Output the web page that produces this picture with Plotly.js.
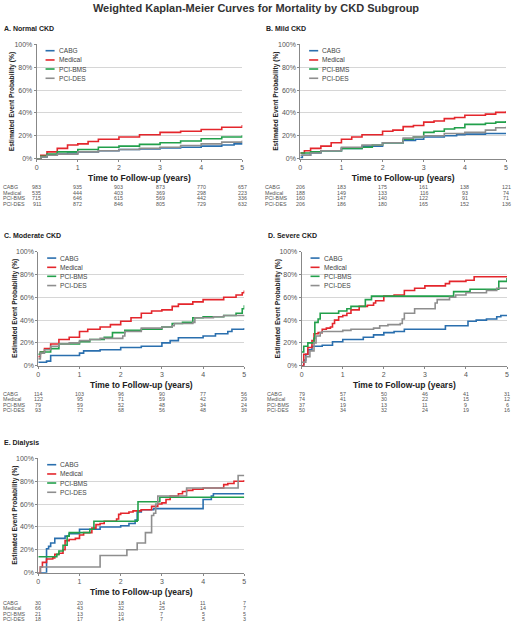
<!DOCTYPE html>
<html><head><meta charset="utf-8">
<script src="https://cdn.plot.ly/plotly-3.0.1.min.js"></script>
<style>html,body{margin:0;padding:0;background:#fff}#chart{width:512px;height:622px}</style>
</head><body><div id="chart"></div>
<script>
const groups = ["CABG", "Medical", "PCI-BMS", "PCI-DES"];
const groupColors = ["#2a6fae", "#e4262c", "#22a04b", "#8e8e8e"];
const panelTitles = ["A. Normal CKD", "B. Mild CKD", "C. Moderate CKD", "D. Severe CKD", "E. Dialysis"];
const xTicks = [0, 1, 2, 3, 4, 5];
const yTicks = [0, 20, 40, 60, 80, 100];
const yTickText = ["0%", "20%", "40%", "60%", "80%", "100%"];
const mainTitle = "Weighted Kaplan-Meier Curves for Mortality by CKD Subgroup";
const xTitle = "Time to Follow-up (years)";
const yTitle = "Estimated Event Probability (%)";

// ---- A. Normal CKD ----
const A_CABG_t = [0, 0.1, 0.25, 0.5, 0.75, 1, 1.5, 2, 2.5, 3, 3.5, 4, 4.5, 4.8, 5];
const A_CABG_p = [0, 1.5, 3, 4, 5, 6, 7, 8, 8.5, 9.5, 10, 11, 12, 13, 14];
const A_Med_t = [0, 0.1, 0.25, 0.5, 0.75, 1, 1.25, 1.5, 2, 2.5, 3, 3.5, 4, 4.5, 5];
const A_Med_p = [0, 3, 6, 9, 12, 13, 15, 17, 19, 21, 23, 24, 25.5, 27.5, 29.5];
const A_BMS_t = [0, 0.1, 0.25, 0.5, 1, 1.5, 2, 2.5, 3, 3.5, 4, 4.5, 5];
const A_BMS_p = [0, 2, 4, 6, 8, 10, 11, 12.5, 14, 15.5, 17.5, 19, 20.5];
const A_DES_t = [0, 0.1, 0.25, 0.5, 1, 1.5, 2, 2.5, 3, 3.5, 4, 4.5, 5];
const A_DES_p = [0, 1.5, 3, 4, 6, 7, 8, 9, 10, 11.5, 13, 14.5, 16];

// ---- B. Mild CKD ----
const B_CABG_t = [0, 0.05, 0.25, 0.5, 1, 1.5, 2, 2.5, 2.8, 3, 3.5, 3.8, 4, 4.5, 5];
const B_CABG_p = [1, 3, 5, 7, 9, 11, 14, 16, 17, 19, 20, 21, 21.5, 22, 22.5];
const B_Med_t = [0, 0.1, 0.25, 0.5, 0.75, 1, 1.25, 1.5, 2, 2.25, 2.5, 2.75, 3, 3.25, 3.5, 3.75, 4, 4.5, 4.75, 5];
const B_Med_p = [5, 7, 9, 11, 14, 17, 19, 21, 24, 25, 28, 29, 32, 33, 35, 36, 38, 39, 40.5, 41.5];
const B_BMS_t = [0, 0.25, 0.5, 1, 1.5, 1.75, 2, 2.5, 2.75, 3, 3.25, 3.5, 3.75, 4, 4.5, 4.75, 5];
const B_BMS_p = [5, 6, 7, 9, 10, 12, 14, 17, 19, 23, 24, 26, 27, 30, 31, 32, 33];
const B_DES_t = [0, 0.25, 0.5, 1, 1.5, 2, 2.5, 2.75, 3, 3.5, 4, 4.5, 4.75, 5];
const B_DES_p = [3, 5, 7, 10, 12, 14, 18, 19, 20, 22, 23, 25, 27, 28];

// ---- C. Moderate CKD ----
const C_CABG_t = [0, 0.2, 0.3, 0.5, 1, 1.1, 1.5, 2, 2.5, 3, 3.2, 3.4, 3.9, 4, 4.3, 4.6, 4.7, 5];
const C_CABG_p = [3, 4, 9, 9, 11, 13, 14, 16, 17, 20, 22, 24.5, 24.5, 26, 28, 30, 32, 33];
const C_Med_t = [0, 0.05, 0.15, 0.3, 0.5, 0.75, 1, 1.2, 1.5, 1.75, 2, 2.25, 2.5, 2.75, 3, 3.25, 3.4, 3.75, 4, 4.5, 4.8, 4.95, 5];
const C_Med_p = [8, 12, 15, 19, 23, 25, 30, 32, 34, 36, 39, 42, 46, 48, 49, 52, 54, 56, 58, 60, 62, 64, 66];
const C_BMS_t = [0, 0.05, 0.3, 0.5, 1, 1.25, 1.6, 1.8, 2, 2.1, 2.5, 3, 3.25, 3.5, 3.75, 4, 4.5, 4.8, 4.95, 5];
const C_BMS_p = [10, 12, 15, 19, 21, 23, 25, 29, 29, 31, 32, 34, 37, 38, 42, 43, 44, 46, 50, 53];
const C_DES_t = [0, 0.05, 0.15, 0.3, 0.5, 0.75, 1, 1.25, 1.5, 1.75, 2.05, 2.1, 2.5, 3, 3.25, 3.3, 3.75, 3.8, 4, 4.25, 4.5, 5];
const C_DES_p = [6, 11, 14, 17, 19, 20, 22, 23, 24, 24, 26, 30, 33, 34, 35, 37, 38, 42, 42, 43, 44, 44.5];

// ---- D. Severe CKD ----
const D_CABG_t = [0, 0.05, 0.1, 0.15, 0.25, 0.5, 0.75, 1, 1.5, 1.75, 2, 2.25, 2.5, 3, 3.5, 4, 4.05, 4.25, 4.5, 4.75, 4.85, 5];
const D_CABG_p = [0, 5, 10, 14, 17, 18, 21, 23, 25, 27, 29, 30, 32, 32, 35, 35, 39, 40, 41, 43, 44, 44.5];
const D_Med_t = [0, 0.05, 0.15, 0.25, 0.3, 0.4, 0.5, 0.6, 0.7, 0.75, 0.8, 0.9, 1, 1.1, 1.2, 1.4, 1.6, 1.75, 1.8, 2, 2.25, 2.5, 2.75, 3, 3.5, 3.6, 4, 4.2, 5];
const D_Med_p = [0, 10, 16, 22, 28, 29, 32, 33, 34, 37, 40, 43, 44, 46, 49, 52, 53, 55, 57, 61, 62, 66, 68, 70, 72, 74, 75, 78, 78];
const D_BMS_t = [0, 0.05, 0.15, 0.3, 0.32, 0.4, 0.45, 0.8, 0.9, 1.1, 1.2, 1.5, 1.55, 1.7, 3.5, 3.7, 4, 4.1, 4.75, 4.8, 5];
const D_BMS_p = [12, 17, 20, 24, 38, 41, 46, 46, 48, 50, 52, 52, 58, 61, 61, 65, 65, 67, 67, 74, 77];
const D_DES_t = [0, 0.1, 0.2, 0.3, 0.35, 0.45, 0.5, 0.75, 1, 1.2, 1.5, 1.75, 1.9, 2.1, 2.4, 2.45, 2.5, 2.7, 2.75, 3, 3.25, 3.3, 3.6, 3.75, 4, 4.5, 4.75, 5];
const D_DES_p = [3, 8, 13, 20, 26, 29, 30, 30, 31, 32, 32, 33, 35, 36, 37, 41, 46, 46, 50, 50, 55, 58, 60, 62, 64, 66, 68, 68];

// ---- E. Dialysis ----
const E_CABG_t = [0, 0.15, 0.2, 0.25, 0.3, 0.4, 0.6, 0.65, 0.75, 1, 1.5, 1.9, 2, 2.2, 2.35, 2.4, 2.5, 2.8, 3, 3.95, 4, 4.2, 4.25, 5];
const E_CABG_p = [0, 0, 21, 23, 26, 30, 30, 32, 34, 38, 40, 40, 41, 43, 46, 53, 55, 56, 56, 56, 64, 67, 69, 69];
const E_Med_t = [0, 0.05, 0.1, 0.2, 0.35, 0.4, 0.5, 0.6, 0.65, 0.75, 0.9, 1, 1.1, 1.3, 1.4, 1.5, 1.6, 1.9, 1.95, 2, 2.2, 2.3, 2.5, 2.75, 2.9, 3, 3.1, 3.2, 3.4, 3.5, 3.6, 3.75, 4, 4.5, 4.6, 4.75, 5];
const E_Med_p = [0, 5, 9, 12, 13, 16, 17, 20, 28, 29, 30, 33, 35, 39, 42, 43, 45, 47, 51, 52, 53, 54, 55, 58, 60, 61, 64, 67, 69, 71, 72, 73, 74, 77, 78, 80, 81];
const E_BMS_t = [0, 0.4, 0.45, 0.5, 0.6, 0.7, 0.75, 1.25, 1.35, 1.6, 2.4, 2.42, 2.9, 2.95, 5];
const E_BMS_p = [14, 14, 16, 19, 24, 32, 35, 38, 45, 45, 46, 62, 62, 66, 66];
const E_DES_t = [0, 0.05, 1.45, 1.5, 2.1, 2.15, 2.4, 2.6, 2.7, 2.75, 2.8, 2.85, 2.9, 3.5, 3.6, 4.8, 4.85, 5];
const E_DES_p = [0, 5, 5, 15, 15, 20, 26, 35, 35, 50, 52, 60, 67, 67, 74, 74, 85, 85];

// ---- Numbers at risk ----
const A_risk_CABG = [983, 935, 903, 873, 770, 657];
const A_risk_Med = [535, 444, 403, 369, 298, 223];
const A_risk_BMS = [715, 646, 615, 569, 442, 336];
const A_risk_DES = [911, 872, 846, 805, 729, 632];
const B_risk_CABG = [206, 183, 175, 161, 138, 121];
const B_risk_Med = [188, 149, 133, 116, 93, 74];
const B_risk_BMS = [160, 147, 140, 122, 91, 71];
const B_risk_DES = [206, 186, 180, 165, 152, 136];
const C_risk_CABG = [114, 103, 96, 90, 77, 56];
const C_risk_Med = [122, 95, 71, 59, 42, 29];
const C_risk_BMS = [79, 59, 52, 48, 34, 24];
const C_risk_DES = [93, 72, 68, 56, 48, 39];
const D_risk_CABG = [79, 57, 50, 46, 41, 31];
const D_risk_Med = [74, 41, 30, 22, 15, 12];
const D_risk_BMS = [37, 19, 13, 11, 9, 6];
const D_risk_DES = [50, 34, 32, 24, 19, 16];
const E_risk_CABG = [30, 20, 18, 14, 11, 7];
const E_risk_Med = [66, 43, 32, 25, 14, 7];
const E_risk_BMS = [21, 13, 10, 7, 5, 5];
const E_risk_DES = [18, 17, 14, 7, 5, 3];

const W = 512, H = 622;
const px = v => v / W;
const py = v => 1 - v / H;

// layout geometry (pixels)
const panels = [
  {series: [[A_CABG_t, A_CABG_p], [A_Med_t, A_Med_p], [A_BMS_t, A_BMS_p], [A_DES_t, A_DES_p]],
   risk: [A_risk_CABG, A_risk_Med, A_risk_BMS, A_risk_DES],
   left: 36.7, right: 242.3, top: 44.3, bottom: 158.7, labelX: 2, labelY: 29, riskY: 187.5},
  {series: [[B_CABG_t, B_CABG_p], [B_Med_t, B_Med_p], [B_BMS_t, B_BMS_p], [B_DES_t, B_DES_p]],
   risk: [B_risk_CABG, B_risk_Med, B_risk_BMS, B_risk_DES],
   left: 300.3, right: 506, top: 44.3, bottom: 158.7, labelX: 264, labelY: 29, riskY: 187.5},
  {series: [[C_CABG_t, C_CABG_p], [C_Med_t, C_Med_p], [C_BMS_t, C_BMS_p], [C_DES_t, C_DES_p]],
   risk: [C_risk_CABG, C_risk_Med, C_risk_BMS, C_risk_DES],
   left: 38.3, right: 244.3, top: 251.7, bottom: 365.7, labelX: 2, labelY: 235, riskY: 394},
  {series: [[D_CABG_t, D_CABG_p], [D_Med_t, D_Med_p], [D_BMS_t, D_BMS_p], [D_DES_t, D_DES_p]],
   risk: [D_risk_CABG, D_risk_Med, D_risk_BMS, D_risk_DES],
   left: 301.7, right: 507, top: 251.7, bottom: 365.7, labelX: 266, labelY: 235, riskY: 394},
  {series: [[E_CABG_t, E_CABG_p], [E_Med_t, E_Med_p], [E_BMS_t, E_BMS_p], [E_DES_t, E_DES_p]],
   risk: [E_risk_CABG, E_risk_Med, E_risk_BMS, E_risk_DES],
   left: 38.3, right: 244.3, top: 458.3, bottom: 572.7, labelX: 2, labelY: 442.7, riskY: 602.7}
];

const FONT = "Liberation Sans, Arial, sans-serif";
const traces = [];
const annotations = [];
const shapes = [];
const layout = {
  width: W, height: H,
  margin: {l: 0, r: 0, t: 0, b: 0},
  paper_bgcolor: "#fff", plot_bgcolor: "#fff",
  showlegend: false,
  font: {family: FONT, color: "#333"},
  title: {text: mainTitle, x: 0.5, xanchor: "center", y: py(8.5), yanchor: "middle",
          font: {family: FONT, size: 11, color: "#333", weight: "bold"}},
  annotations, shapes
};

const legendY = [0.944, 0.863, 0.784, 0.703];
const riskDY = 5.4;

panels.forEach((pn, i) => {
  const n = i + 1;
  const xa = n === 1 ? "x" : "x" + n;
  const ya = n === 1 ? "y" : "y" + n;
  const xKey = n === 1 ? "xaxis" : "xaxis" + n;
  const yKey = n === 1 ? "yaxis" : "yaxis" + n;
  layout[xKey] = {
    domain: [px(pn.left), px(pn.right)], anchor: ya, range: [0, 5],
    tickvals: xTicks, ticks: "outside", ticklen: 2, tickcolor: "#888",
    tickfont: {size: 7, color: "#555", family: FONT},
    showgrid: false, zeroline: false, showline: true, linecolor: "#888", linewidth: 1,
    fixedrange: true,
    title: {text: xTitle, standoff: 4, font: {size: 8.5, color: "#222", family: FONT, weight: "bold"}}
  };
  layout[yKey] = {
    domain: [py(pn.bottom), py(pn.top)], anchor: xa, range: [0, 100],
    tickvals: yTicks, ticktext: yTickText, ticks: "outside", ticklen: 2, tickcolor: "#888",
    tickfont: {size: 7, color: "#555", family: FONT},
    showgrid: true, gridcolor: "#d6d6d6", gridwidth: 1, zeroline: false,
    showline: true, linecolor: "#888", linewidth: 1, fixedrange: true
  };
  pn.series.forEach((s, g) => {
    traces.push({
      type: "scatter", mode: "lines", x: s[0], y: s[1], xaxis: xa, yaxis: ya,
      name: groups[g], line: {color: groupColors[g], width: 1.6, shape: "hv"},
      hoverinfo: "skip", showlegend: false
    });
  });
  // y axis title (rotated)
  annotations.push({text: "<b>" + yTitle + "</b>", xref: "paper", yref: "paper",
    x: px(pn.left - 24), y: py((pn.top + pn.bottom) / 2), xanchor: "center", yanchor: "middle",
    textangle: -90, showarrow: false, font: {size: 6.6, color: "#222", family: FONT}});
  // panel label
  annotations.push({text: "<b>" + panelTitles[i] + "</b>", xref: "paper", yref: "paper",
    x: px(pn.labelX), y: py(pn.labelY), xanchor: "left", yanchor: "middle", showarrow: false,
    font: {size: 7, color: "#222", family: FONT}});
  // legend
  groups.forEach((g, k) => {
    shapes.push({type: "line", xref: xa + " domain", yref: ya + " domain",
      x0: 0.043, x1: 0.087, y0: legendY[k], y1: legendY[k],
      line: {color: groupColors[k], width: 1.6}});
    annotations.push({text: g, xref: xa + " domain", yref: ya + " domain",
      x: 0.097, y: legendY[k], xanchor: "left", yanchor: "middle", showarrow: false,
      font: {size: 6.6, color: "#444", family: FONT}});
  });
  // risk table
  pn.risk.forEach((row, k) => {
    const yy = py(pn.riskY + k * riskDY);
    annotations.push({text: groups[k], xref: "paper", yref: "paper",
      x: px(pn.labelX - 1), y: yy, xanchor: "left", yanchor: "middle", showarrow: false,
      font: {size: 5.3, color: "#555", family: FONT}});
    row.forEach((v, j) => {
      annotations.push({text: String(v), xref: xa, yref: "paper",
        x: xTicks[j], y: yy, xanchor: "center", yanchor: "middle", showarrow: false,
        font: {size: 5.3, color: "#555", family: FONT}});
    });
  });
});

Plotly.newPlot("chart", traces, layout, {displayModeBar: false, staticPlot: true});
</script>
</body></html>
